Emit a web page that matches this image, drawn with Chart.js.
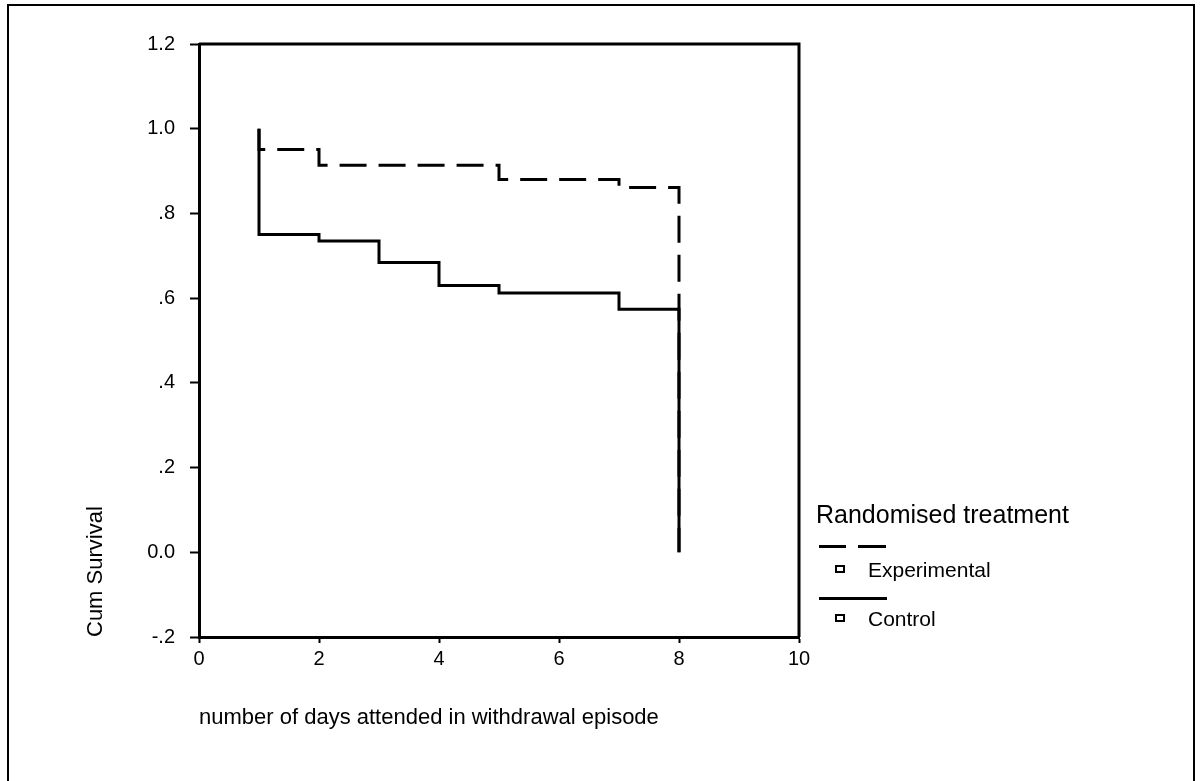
<!DOCTYPE html>
<html>
<head>
<meta charset="utf-8">
<script src="https://cdn.jsdelivr.net/npm/chart.js@4"></script>
<style>
    html, body { margin:0; padding:0; background:#fff; overflow:hidden; }
    #wrap { position:relative; width:1200px; height:781px; font-family:"Liberation Sans", Arial, sans-serif; color:#000; }
    #frame { position:absolute; left:7px; top:4px; width:1188px; height:820px; border:2px solid #000; box-sizing:border-box; }
    canvas { position:absolute; left:0; top:0; }
    .lg { position:absolute; white-space:nowrap; line-height:1; }
    .bar { position:absolute; height:3px; background:#000; }
    .mk { position:absolute; width:10px; height:8px; border:2px solid #000; box-sizing:border-box; }
</style>
</head>
<body>
<div id="wrap">
    <div id="frame"></div>
    <canvas id="survChart" width="1200" height="781"></canvas>

    <!-- legend -->
    <div class="lg" style="left:816px;top:502px;font-size:25px">Randomised treatment</div>
    <div class="bar" style="left:819px;top:545px;width:27px"></div>
    <div class="bar" style="left:858px;top:545px;width:28px"></div>
    <div class="mk" style="left:835px;top:565px"></div>
    <div class="lg" style="left:868px;top:559px;font-size:21px">Experimental</div>
    <div class="bar" style="left:819px;top:597px;width:68px"></div>
    <div class="mk" style="left:835px;top:614px"></div>
    <div class="lg" style="left:868px;top:608px;font-size:21px">Control</div>
</div>

<script>
// survival steps
const ctrlDays = [1, 1, 2, 3, 4, 5, 7, 8];
const ctrlSurv = [1.0, 0.75, 0.735, 0.684, 0.63, 0.612, 0.574, 0.0];
const expDays = [1, 1, 2, 5, 7, 8];
const expSurv = [1.0, 0.951, 0.914, 0.88, 0.861, 0.0];

const yTickLabels = ['-.2', '0.0', '.2', '.4', '.6', '.8', '1.0', '1.2'];
const xTickLabels = ['0', '2', '4', '6', '8', '10'];

function toPoints(xs, ys) {
    return xs.map((x, i) => ({ x: x, y: ys[i] }));
}

// box around plot area (top + right edges)
const plotFrame = {
    id: 'plotFrame',
    afterDatasetsDraw(chart) {
        const a = chart.chartArea;
        const ctx = chart.ctx;
        ctx.save();
        ctx.strokeStyle = '#000';
        ctx.lineWidth = 3;
        ctx.beginPath();
        ctx.moveTo(a.left, a.top);
        ctx.lineTo(a.right, a.top);
        ctx.lineTo(a.right, a.bottom);
        ctx.stroke();
        ctx.restore();
    }
};

Chart.defaults.font.family = '"Liberation Sans", Arial, sans-serif';
Chart.defaults.color = '#000';

new Chart(document.getElementById('survChart'), {
    type: 'scatter',
    data: {
        datasets: [
            {
                label: 'Control',
                data: toPoints(ctrlDays, ctrlSurv),
                showLine: true,
                stepped: 'before',
                borderColor: '#000',
                borderWidth: 3,
                pointRadius: 0,
                fill: false
            },
            {
                label: 'Experimental',
                data: toPoints(expDays, expSurv),
                showLine: true,
                stepped: 'before',
                borderColor: '#000',
                borderWidth: 3,
                borderDash: [27, 12],
                pointRadius: 0,
                fill: false
            }
        ]
    },
    options: {
        responsive: false,
        animation: false,
        layout: { padding: { left: 0, top: 44, right: 401, bottom: 0 } },
        plugins: { legend: { display: false }, tooltip: { enabled: false } },
        scales: {
            x: {
                type: 'linear',
                min: 0, max: 10,
                afterFit: s => { s.height = 144; },
                ticks: {
                    stepSize: 2,
                    font: { size: 20 },
                    padding: 4,
                    callback: (v, i) => xTickLabels[i]
                },
                grid: { drawOnChartArea: false, drawTicks: true, tickLength: 6, tickWidth: 2, tickColor: '#000' },
                border: { display: true, color: '#000', width: 3 },
                title: {
                    display: true,
                    text: 'number of days attended in withdrawal episode',
                    align: 'start',
                    font: { size: 22 },
                    padding: { top: 0, bottom: 50 }
                }
            },
            y: {
                min: -0.2, max: 1.2,
                afterFit: s => { s.width = 199; },
                ticks: {
                    stepSize: 0.2,
                    font: { size: 20 },
                    padding: 15,
                    callback: (v, i) => yTickLabels[i]
                },
                grid: { drawOnChartArea: false, drawTicks: true, tickLength: 9, tickWidth: 2, tickColor: '#000' },
                border: { display: true, color: '#000', width: 3 },
                title: {
                    display: true,
                    text: 'Cum Survival',
                    align: 'start',
                    font: { size: 22 },
                    padding: { top: 83, bottom: 0 }
                }
            }
        }
    },
    plugins: [plotFrame]
});
</script>
</body>
</html>
